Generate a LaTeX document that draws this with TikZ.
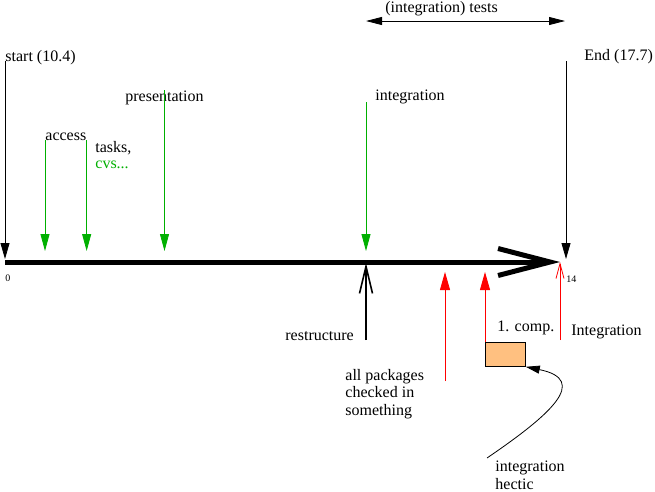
\documentclass[tikz,border=0pt]{standalone}
\usepackage{fontspec}
\setmainfont{Liberation Serif}
\usetikzlibrary{arrows.meta,calc,positioning}
\definecolor{figgreen}{RGB}{0,176,0}
\definecolor{boxorange}{RGB}{255,192,128}

\begin{document}
\begin{tikzpicture}[x=1pt,y=-1pt,line width=0.8pt]

\tikzset{txt/.style={font=\fontsize{16}{17.5}\selectfont,anchor=base west,inner sep=0pt,align=left},
smalltxt/.style={font=\fontsize{10}{12}\selectfont,anchor=base west,inner sep=0pt},
downblack/.style={draw=black,-{Triangle[length=16pt,width=9pt]},shorten >=3pt},
downgreen/.style={draw=figgreen,-{Triangle[length=17pt,width=9pt]},shorten >=11pt},
upred/.style={draw=red,-{Triangle[length=18pt,width=10pt]},shorten >=10pt}}

\useasboundingbox (0,0) rectangle (655,491);

% Time axis
\coordinate (t0) at (5,262);
\coordinate (t14) at (560,262);
\draw[line width=5pt,-{Straight Barb[length=52pt,width=27pt,sharp]}] (t0) -- (t14);
\node[smalltxt] (zeroLabel) at (5,281) {0};
\node[smalltxt] (fourteenLabel) at (566,282) {14};

% Start and end
\coordinate (startTop) at (5,61);
\node[txt] (startLabel) at (startTop) {start (10.4)};
\draw[downblack] (startTop) -- (startTop |- t0);
\coordinate (endTop) at (566,61);
\node[txt] (endLabel) at (584,60) {End (17.7)};
\draw[downblack] (endTop) -- (endTop |- t0);

% Tests interval
\coordinate (testsLeft) at (366,21);
\coordinate (testsRight) at (565,21);
\draw[{Triangle[length=16pt,width=8pt]}-{Triangle[length=16pt,width=8pt]}] (testsLeft) -- (testsRight);
\node[txt] (testsLabel) at (385,12) {(integration) tests};

% Milestones above the axis
\node[txt] (accessLabel) at (45,140) {access};
\draw[downgreen] (accessLabel.base west) -- (accessLabel.base west |- t0);
\draw[downgreen] (accessLabel.base east) -- (accessLabel.base east |- t0);
\node[txt] (tasksLabel) at (95,152) {tasks,};
\node[txt,text=figgreen] (cvsLabel) at (95,168) {cvs...};
\node[txt] (presentationLabel) at (125,101) {presentation};
\draw[downgreen] (presentationLabel.north) -- (presentationLabel.north |- t0);
\coordinate (integTop) at (366,102);
\node[txt] (integLabel) at (375,100) {integration};
\draw[downgreen] (integTop) -- (integTop |- t0);

% Milestones below the axis
\coordinate (restructBot) at (366,340);
\node[txt] (restructLabel) at (285,340) {restructure};
\draw[line width=1.6pt,-{Straight Barb[length=27pt,width=13pt,sharp]},shorten >=1pt] (restructBot) -- (restructBot |- t0);
\coordinate (packagesBot) at (445,381);
\node[txt] (packagesLabel) at (345,415) {all packages\\checked in\\something};
\draw[upred] (packagesBot) -- (packagesBot |- t0);
\node[draw,fill=boxorange,minimum width=40pt,minimum height=24pt,anchor=north west,inner sep=0pt] (orangeBox) at (485,342) {};
\node[txt] (compLabel) at (497,331) {1. comp.};
\draw[upred] (orangeBox.north west) -- (orangeBox.north west |- t0);
\coordinate (finalBot) at (560,340);
\node[txt] (finalLabel) at (571,335) {Integration};
\draw[red,-{Straight Barb[length=15pt,width=8pt]}] (finalBot) -- (finalBot |- t0);

% Hectic
\coordinate (hecticStart) at (487,458);
\node[txt] (hecticLabel) at (495,489) {integration\\hectic};
\draw[-{Triangle[length=14pt,width=8pt]}] (hecticStart) .. controls (550,415) and (590,380) .. (orangeBox.south east);

\end{tikzpicture}
\end{document}
